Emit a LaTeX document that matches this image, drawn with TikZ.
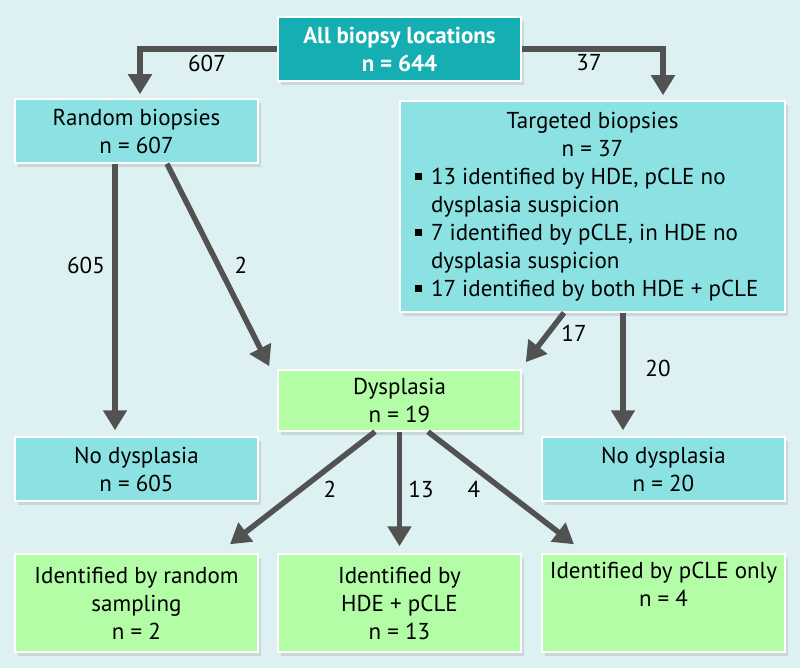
\documentclass[tikz,border=0pt]{standalone}
\usepackage{fontspec}
\setmainfont{PT Sans}
\usetikzlibrary{arrows.meta,shadows}
\definecolor{bgc}{HTML}{DDF1F3}
\definecolor{tealbox}{HTML}{15AEB2}
\definecolor{cyanbox}{HTML}{8CE2E2}
\definecolor{greenbox}{HTML}{B2FDA6}
\definecolor{arrc}{HTML}{525252}
\newcommand{\bitem}[1]{\par\noindent\hangindent=16pt\hangafter=1\makebox[16pt][l]{\rule[0.2em]{0.3em}{0.3em}}#1}
\begin{document}
\begin{tikzpicture}[x=1pt,y=-1pt,
  txt/.style={font=\fontsize{23}{28}\selectfont},
  box/.style={txt,draw=white,line width=1.5pt,minimum width=243pt,inner sep=0pt,align=center,
    drop shadow={shadow xshift=3pt,shadow yshift=-4pt,opacity=0.22}},
  cbox/.style={box,fill=cyanbox},
  gbox/.style={box,fill=greenbox},
  arr/.style={draw=arrc,line width=5.5pt,-{Triangle[width=23pt,length=20pt]}},
  lab/.style={txt,inner sep=0pt}]
\fill[bgc] (0,0) rectangle (800,668);
\useasboundingbox (0,0) rectangle (800,668);

\node[box,fill=tealbox,text=white,font=\bfseries\fontsize{23}{28}\selectfont,minimum height=64pt] (top) at (399.5,49) {All biopsy locations\\ n = 644};
\node[cbox,minimum height=64pt] (rand) at (136.5,131) {Random biopsies\\ n = 607};
\node[cbox,minimum width=385pt,minimum height=211pt] (targ) at (592.5,206.5) {\begin{minipage}{355pt}\centering Targeted biopsies\\ n = 37\par\raggedright
\bitem{13 identified by HDE, pCLE no\newline dysplasia suspicion}
\bitem{7 identified by pCLE, in HDE no\newline dysplasia suspicion}
\bitem{17 identified by both HDE + pCLE}\par
\end{minipage}};
\node[gbox,minimum height=61pt] (dys) at (399.5,400.5) {Dysplasia\\ n = 19};
\node[cbox,minimum height=64pt] (nod1) at (136.5,469) {No dysplasia\\ n = 605};
\node[cbox,minimum height=64pt] (nod2) at (663.5,469) {No dysplasia\\ n = 20};
\node[gbox,minimum height=98pt] (b1) at (136.5,603) {Identified by random\\ sampling\\ n = 2};
\node[gbox,minimum height=98pt] (b2) at (399.5,603) {Identified by\\ HDE + pCLE\\ n = 13};
\node[gbox,minimum height=98pt] (b3) at (663.5,603) {Identified by pCLE only\\ n = 4\\ \strut};

\draw[arr,shorten >=4pt] (top.west) -| ([xshift=3.5pt]rand.north);
\draw[arr,shorten >=5pt] (top.east) -| ([xshift=70.5pt]targ.north);
\draw[arr,shorten >=6pt] ([xshift=-21.5pt]rand.south) -- ([xshift=-21.5pt]nod1.north);
\draw[arr] ([xshift=30.5pt]rand.south) -- ([xshift=-8pt,yshift=3pt]dys.north west);
\draw[arr] ([xshift=-28.5pt]targ.south) -- ([xshift=4pt,yshift=7pt]dys.north east);
\draw[arr,shorten >=6pt] ([xshift=30.5pt]targ.south) -- ([xshift=-40.5pt]nod2.north);
\draw[arr] ([xshift=-24.5pt]dys.south) -- ([xshift=93.5pt,yshift=9pt]b1.north);
\draw[arr,shorten >=7pt] (dys.south) -- (b2.north);
\draw[arr] ([xshift=28.5pt]dys.south) -- ([xshift=-89.5pt,yshift=9pt]b3.north);

\node[lab] (l607) at (207,63) {607};
\node[lab] (l37) at (589,63) {37};
\node[lab] (l605) at (86,265) {605};
\node[lab] (l2a) at (241,265) {2};
\node[lab] (l17) at (574,333) {17};
\node[lab] (l20) at (658,368) {20};
\node[lab] (l2b) at (330,489) {2};
\node[lab] (l13) at (421,489) {13};
\node[lab] (l4) at (474,489) {4};
\end{tikzpicture}
\end{document}
